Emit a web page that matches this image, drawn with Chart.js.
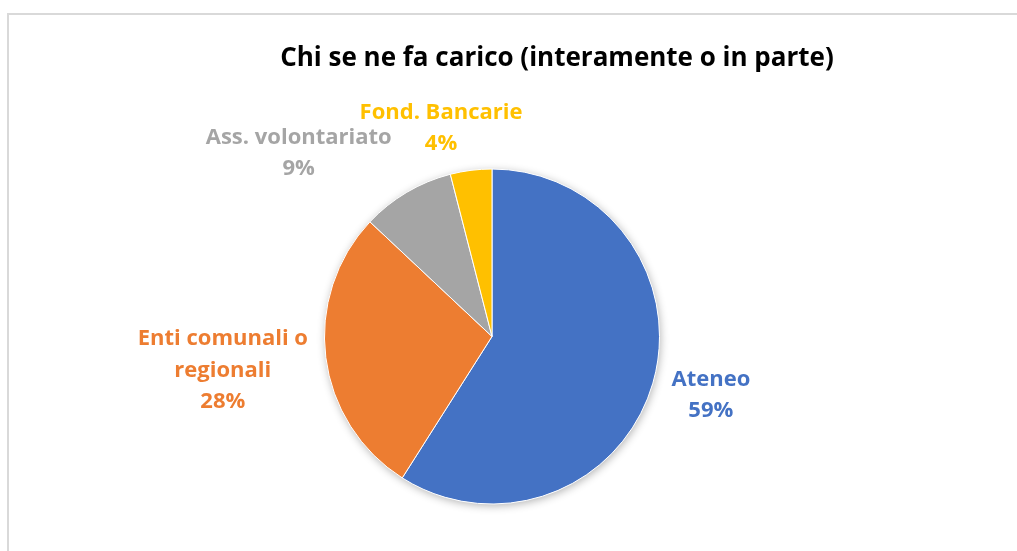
<!DOCTYPE html>
<html>
<head>
<meta charset="utf-8">
<script src="https://cdn.jsdelivr.net/npm/chart.js@4/dist/chart.umd.min.js"></script>
<style>
  html, body { margin: 0; padding: 0; background: #fff; }
  #wrap { position: relative; width: 1017px; height: 551px; overflow: hidden; }
  #frame { position: absolute; left: 7px; top: 13px; width: 1100px; height: 700px; border: 2px solid #d9d9d9; box-sizing: border-box; }
  canvas { position: absolute; left: 0; top: 0; }
</style>
</head>
<body>
<div id="wrap">
  <div id="frame"></div>
  <canvas id="c" width="1017" height="551"></canvas>
</div>
<script>
const title = 'Chi se ne fa carico (interamente o in parte)';
const categories = [['Ateneo'], ['Enti comunali o', 'regionali'], ['Ass. volontariato'], ['Fond. Bancarie']];
const values = [59, 28, 9, 4];
const colors = ['#4472C4', '#ED7D31', '#A5A5A5', '#FFC000'];

// label block shift from the slice's outer mid point (layout only)
const labelShift = [[58, 12], [-103, 13], [-108, -39], [-30, -42]];

const labelFont = 'bold 22px "Open Sans", Lato, sans-serif';

const outsideLabels = {
  id: 'outsideLabels',
  beforeDatasetsDraw(chart) {
    const arc = chart.getDatasetMeta(0).data[0];
    if (!arc) return;
    const ctx = chart.ctx;
    ctx.save();
    ctx.shadowColor = 'rgba(0,0,0,0.3)';
    ctx.shadowBlur = 9;
    ctx.shadowOffsetX = 1;
    ctx.shadowOffsetY = 2;
    ctx.fillStyle = '#fff';
    ctx.beginPath();
    ctx.arc(arc.x, arc.y, arc.outerRadius, 0, Math.PI * 2);
    ctx.fill();
    ctx.restore();
  },
  afterDraw(chart) {
    const ctx = chart.ctx;
    const meta = chart.getDatasetMeta(0);
    const total = values.reduce((a, b) => a + b, 0);
    ctx.save();
    ctx.textAlign = 'center';
    ctx.textBaseline = 'middle';
    // title
    ctx.font = 'bold 26px "Open Sans", Lato, sans-serif';
    ctx.fillStyle = '#000';
    ctx.fillText(title, 557, 59);
    // labels
    ctx.font = labelFont;
    meta.data.forEach((a, i) => {
      const mid = (a.startAngle + a.endAngle) / 2;
      const px = a.x + Math.cos(mid) * a.outerRadius + labelShift[i][0];
      const py = a.y + Math.sin(mid) * a.outerRadius + labelShift[i][1];
      const lines = categories[i].concat([Math.round(values[i] / total * 100) + '%']);
      const lh = 31.5;
      const y0 = py - (lines.length - 1) * lh / 2;
      ctx.fillStyle = colors[i];
      lines.forEach((t, k) => ctx.fillText(t, px, y0 + k * lh));
    });
    ctx.restore();
  }
};

new Chart(document.getElementById('c'), {
  type: 'pie',
  data: {
    labels: categories.map(c => c.join(' ')),
    datasets: [{
      data: values,
      backgroundColor: colors,
      borderColor: '#ffffff',
      borderWidth: 1
    }]
  },
  options: {
    responsive: false,
    animation: false,
    layout: { padding: { left: 324, right: 357, top: 168, bottom: 46 } },
    plugins: {
      legend: { display: false },
      title: { display: false },
      tooltip: { enabled: false }
    }
  },
  plugins: [outsideLabels]
});
</script>
</body>
</html>
